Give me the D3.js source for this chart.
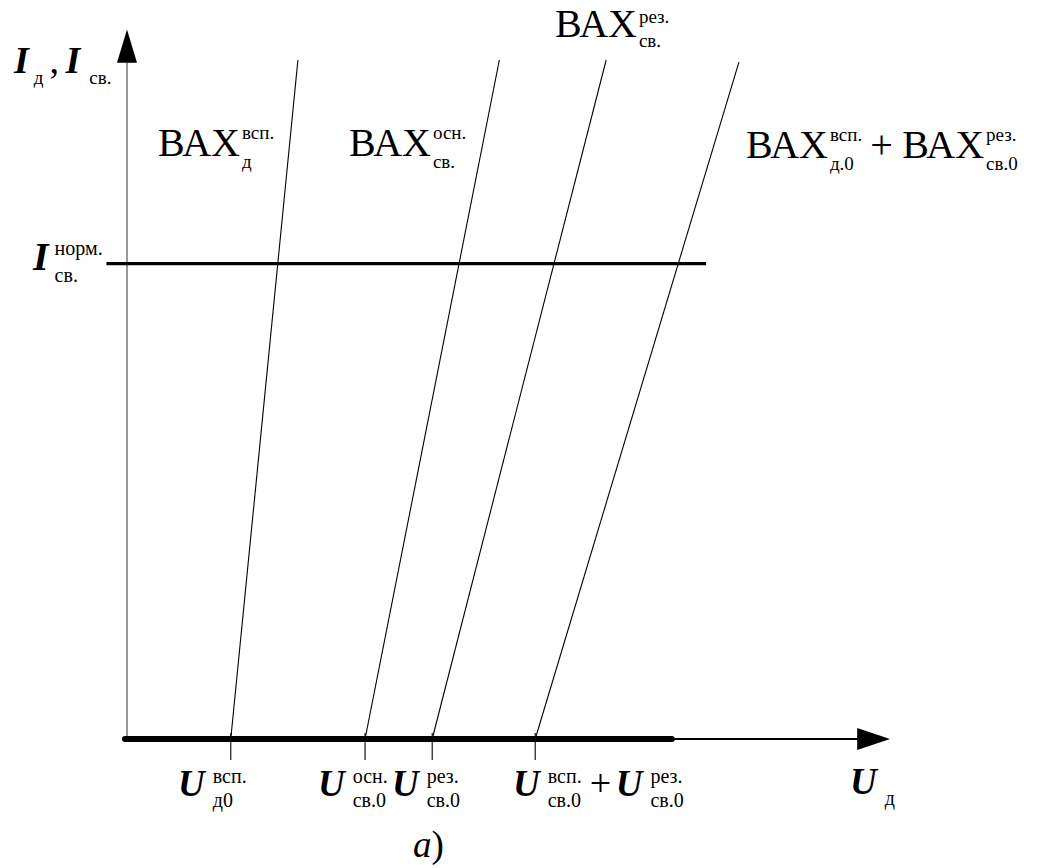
<!DOCTYPE html>
<html>
<head>
<meta charset="utf-8">
<script src="https://cdn.jsdelivr.net/npm/d3@7"></script>
<style>
  html, body { margin: 0; padding: 0; background: #fff; }
  svg { display: block; }
</style>
</head>
<body>
<svg id="chart" width="1041" height="868"></svg>
<script>
// Current–voltage characteristics (ВАХ): voltage at zero current and at the top of the plot
const curveIds   = ["vsp_d", "osn_sv", "rez_sv", "sum"];
const uAtZero    = [1.36, 3.12, 4.00, 5.35];
const uAtTop     = [2.24, 4.88, 6.28, 8.02];
const iAtTop     = [1.00, 1.00, 1.00, 0.997];
const iNorm      = 0.70;   // I_св.^норм.
const uThickEnd  = 7.14;   // end of the bold part of the U axis

// Label texts: [main, superscript, subscript]
const curveLabels = [
  ["ВАХ", "всп.", "д"],
  ["ВАХ", "осн.", "св."],
  ["ВАХ", "рез.", "св."]
];
const sumLabel = [["ВАХ", "всп.", "д.0"], ["ВАХ", "рез.", "св.0"]];
const tickLabels = [
  ["U", "всп.", "д0"],
  ["U", "осн.", "св.0"],
  ["U", "рез.", "св.0"]
];
const tickSumLabel = [["U", "всп.", "св.0"], ["U", "рез.", "св.0"]];

const FONT = '"Liberation Serif", "Times New Roman", "DejaVu Serif", serif';

const svg = d3.select("#chart");
const x = d3.scaleLinear().domain([0, 10]).range([127, 890]);
const y = d3.scaleLinear().domain([0, 1]).range([739, 60]);

// Vertical (current) axis, grey with a filled arrow
svg.append("line")
  .attr("x1", x(0)).attr("x2", x(0))
  .attr("y1", y(0)).attr("y2", y(1.0))
  .attr("stroke", "#7f7f7f").attr("stroke-width", 1.6);
svg.append("path")
  .attr("d", `M${x(0)},${y(1.045)} L${x(0) - 10},${y(0.996)} L${x(0) + 10},${y(0.996)} Z`)
  .attr("fill", "#000");

// Horizontal (voltage) axis: bold segment, thin segment, arrow
svg.append("line")
  .attr("x1", x(0) - 2).attr("x2", x(uThickEnd))
  .attr("y1", y(0)).attr("y2", y(0))
  .attr("stroke", "#000").attr("stroke-width", 6).attr("stroke-linecap", "round");
svg.append("line")
  .attr("x1", x(uThickEnd)).attr("x2", x(9.6))
  .attr("y1", y(0)).attr("y2", y(0))
  .attr("stroke", "#000").attr("stroke-width", 2);
svg.append("path")
  .attr("d", `M${x(10)},${y(0)} L${x(9.57)},${y(0) - 11} L${x(9.57)},${y(0) + 11} Z`)
  .attr("fill", "#000");

// Nominal current level
svg.append("line")
  .attr("x1", x(-0.27)).attr("x2", x(7.59))
  .attr("y1", y(iNorm)).attr("y2", y(iNorm))
  .attr("stroke", "#000").attr("stroke-width", 3.2);

// Characteristic lines
svg.selectAll("line.vax")
  .data(curveIds.map((id, i) => ({ id, u0: uAtZero[i], u1: uAtTop[i], i1: iAtTop[i] })))
  .join("line")
  .attr("class", "vax")
  .attr("x1", d => x(d.u0)).attr("y1", y(0))
  .attr("x2", d => x(d.u1)).attr("y2", d => y(d.i1))
  .attr("stroke", "#000").attr("stroke-width", 1.1);

// Tick marks at the zero-current voltages
svg.selectAll("line.tick")
  .data(uAtZero)
  .join("line")
  .attr("class", "tick")
  .attr("x1", d => x(d)).attr("x2", d => x(d))
  .attr("y1", y(0) - 6).attr("y2", y(0) + 21)
  .attr("stroke", "#000").attr("stroke-width", 1.1);

function txt(g, px, py, s, size, italic, bold) {
  return g.append("text")
    .attr("x", px).attr("y", py)
    .style("font-family", FONT)
    .style("font-size", size + "px")
    .style("font-style", italic ? "italic" : "normal")
    .style("font-weight", bold ? "700" : "400")
    .style("fill", "#000")
    .text(s);
}
function measure(g, s, size) {
  const t = txt(g, 0, -100, s, size, false, false);
  const w = t.node().getComputedTextLength();
  t.remove();
  return w;
}

// Symbol with stacked superscript and subscript; returns right edge
function symbol(g, px, py, parts, opts) {
  const { size, italic, bold, small, supDy, subDy, gap } = opts;
  const main = txt(g, px, py, parts[0], size, italic, bold);
  const w = main.node().getComputedTextLength();
  const sx = px + w + gap;
  if (parts[1]) txt(g, sx, py + supDy, parts[1], small, false, false);
  if (parts[2]) txt(g, sx, py + subDy, parts[2], small, false, false);
  const sw = Math.max(
    parts[1] ? measure(g, parts[1], small) : 0,
    parts[2] ? measure(g, parts[2], small) : 0);
  return sx + sw;
}

const labels = svg.append("g");
const vaxOpts = { size: 40, italic: false, bold: false, small: 19, supDy: -17, subDy: 12, gap: 2 };
const uOpts   = { size: 37, italic: true,  bold: true,  small: 20, supDy: -13, subDy: 11, gap: 8 };

// Curve labels
symbol(labels, 158, 156, curveLabels[0], vaxOpts);
symbol(labels, 349, 156, curveLabels[1], vaxOpts);
symbol(labels, 555, 37, curveLabels[2], { ...vaxOpts, supDy: -14, subDy: 10 });
let ex = symbol(labels, 746, 158, sumLabel[0], vaxOpts);
txt(labels, ex + 8, 158, "+", 40, false, false);
symbol(labels, ex + 40, 158, sumLabel[1], vaxOpts);

// Voltage tick labels
symbol(labels, 178, 796, tickLabels[0], uOpts);
symbol(labels, 318, 796, tickLabels[1], uOpts);
symbol(labels, 392, 796, tickLabels[2], uOpts);
ex = symbol(labels, 513, 796, tickSumLabel[0], uOpts);
txt(labels, ex + 8, 796, "+", 38, false, false);
symbol(labels, ex + 34, 796, tickSumLabel[1], uOpts);

// Axis titles
symbol(labels, 850, 794, ["U", "", "д"], uOpts);
const yOpts = { size: 38, italic: true, bold: true, small: 19, supDy: 0, subDy: 11, gap: 5 };
let yx = symbol(labels, 14, 73, ["I", "", "д"], yOpts);
txt(labels, yx + 6, 73, ",", 38, false, false);
symbol(labels, yx + 22, 73, ["I", "", "св."], { ...yOpts, gap: 9 });

// Nominal current label
symbol(labels, 33, 270, ["I", "норм.", "св."], { size: 40, italic: true, bold: true, small: 20, supDy: -15, subDy: 12, gap: 6 });

// Panel caption
const cap = txt(labels, 413, 857, "", 37, false, false);
cap.append("tspan").style("font-style", "italic").text("a");
cap.append("tspan").text(")");
</script>
</body>
</html>
